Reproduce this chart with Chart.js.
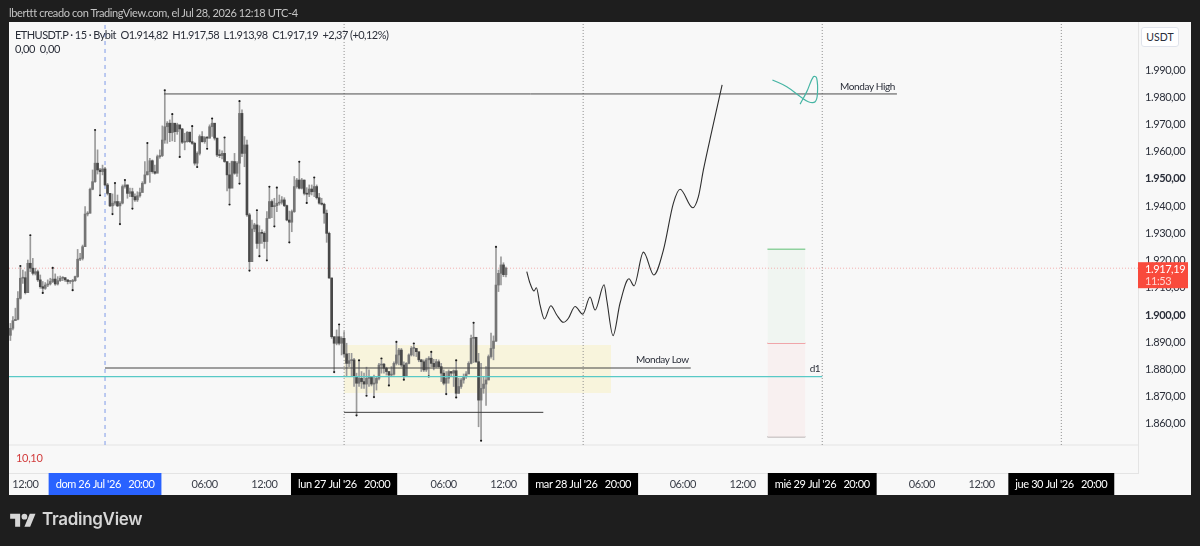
<!DOCTYPE html>
<html>
<head>
<meta charset="utf-8">
<title>ETHUSDT.P 15</title>
<script src="https://cdn.jsdelivr.net/npm/chart.js@4/dist/chart.umd.js"></script>
<style>
html, body { margin: 0; padding: 0; background: #1e1e1e; }
body { position: relative; width: 1200px; height: 546px; overflow: hidden; font-family: Lato, sans-serif; }
#frame { position: absolute; left: 9px; top: 22px; width: 1182px; height: 473px; background: #f8f8f8; }
#myChart { position: absolute; left: 0; top: 0; }
.txt { position: absolute; white-space: pre; }
#snapshot { left: 9px; top: 6px; font-size: 11px; letter-spacing: -0.38px; color: #c4c4c4; }
#header { left: 15px; top: 28px; font-size: 11px; letter-spacing: -0.55px; color: #2a2e39; }
#subheader { left: 15px; top: 42px; font-size: 11px; letter-spacing: -0.4px; color: #2a2e39; }
#volume { left: 16px; top: 451px; font-size: 11px; letter-spacing: -0.3px; color: #d23c3c; }
#unit { left: 1141px; top: 27px; width: 36px; height: 18px; line-height: 18px; text-align: center; font-size: 10.5px; color: #2a2e39; border: 1px solid #e0e3eb; border-radius: 3px; background: #fff; }
#brand { left: 42px; top: 509px; font-family: Inter, sans-serif; font-size: 17px; font-weight: 600; color: #d6d6d6; letter-spacing: -0.3px; }
#logo { position: absolute; left: 10px; top: 511px; }
</style>
</head>
<body>
<div id="frame"></div>
<canvas id="myChart" width="1200" height="546"></canvas>
<div class="txt" id="snapshot">lberttt creado con TradingView.com, el Jul 28, 2026 12:18 UTC-4</div>
<div class="txt" id="header">ETHUSDT.P · 15 · Bybit  O1.914,82  H1.917,58  L1.913,98  C1.917,19  +2,37 (+0,12%)</div>
<div class="txt" id="subheader">0,00  0,00</div>
<div class="txt" id="volume">10,10</div>
<div class="txt" id="unit">USDT</div>
<svg id="logo" width="26" height="20" viewBox="0 0 36 28" fill="#d6d6d6"><path d="M14 22H7V11H0V4h14v18zM28 22h-8l7.5-18h8L28 22z"/><circle cx="20" cy="8" r="4"/></svg>
<div class="txt" id="brand">TradingView</div>
<script>
// Velas de 15 min, hora 0 = corte de sesion del 26 Jul
const firstHour = -9.5;
const firstOpen = 1892.5;
const closes = [
  1895.1,1897.9,1898.4,1906.1,1913.5,1913.7,1908.2,1919.0,1917.2,1915.3,
  1915.9,1912.9,1910.4,1909.8,1911.0,1911.4,1912.3,1913.2,1911.4,1912.6,
  1913.5,1913.7,1912.9,1912.3,1912.3,1912.6,1914.1,1920.5,1920.8,1925.1,
  1937.1,1937.4,1946.2,1949.0,1955.8,1953.3,1952.7,1953.7,1947.8,1944.7,
  1940.1,1941.1,1941.7,1940.1,1941.1,1947.2,1947.8,1944.7,1945.3,1943.5,
  1942.3,1943.8,1945.0,1948.4,1951.5,1952.7,1956.7,1952.7,1952.1,1958.2,
  1958.6,1964.3,1969.2,1970.5,1967.0,1970.5,1967.4,1969.9,1968.4,1963.5,
  1963.7,1967.2,1963.7,1963.1,1955.8,1959.4,1965.6,1963.7,1965.2,1965.0,
  1969.2,1970.5,1965.0,1958.8,1958.6,1959.4,1956.4,1951.5,1946.6,1956.4,
  1952.1,1955.8,1974.1,1959.4,1962.5,1936.8,1919.6,1931.6,1933.1,1926.3,
  1930.3,1930.0,1927.0,1935.5,1941.7,1939.8,1940.2,1941.1,1941.4,1942.3,
  1940.2,1934.9,1934.1,1938.0,1947.2,1949.6,1946.6,1949.6,1944.7,1944.4,
  1946.3,1945.3,1947.2,1943.1,1941.1,1940.7,1937.4,1930.0,1913.6,1892.0,
  1889.6,1892.0,1889.6,1891.4,1885.7,1882.2,1883.2,1883.5,1877.3,1874.9,
  1876.7,1875.5,1874.6,1876.7,1877.3,1874.6,1874.9,1876.7,1881.6,1881.9,
  1880.4,1879.2,1877.9,1878.2,1882.2,1885.3,1887.1,1881.6,1877.3,1882.2,
  1885.3,1887.7,1887.7,1886.5,1883.5,1882.8,1879.8,1883.5,1884.1,1882.2,
  1881.0,1882.8,1881.0,1878.6,1874.9,1876.7,1879.2,1878.6,1879.5,1871.2,
  1873.7,1876.1,1877.3,1878.3,1882.2,1891.4,1891.8,1882.8,1868.7,1873.0,
  1874.6,1876.1,1884.7,1887.7,1890.4,1911.0,1915.3,1918.4,1914.82,1917.19
];
const highs = [
  1896.9,1899.4,1902.5,1908.6,1917.5,1916.5,1915.9,1920.2,1928.8,1920.8,
  1917.2,1916.5,1914.7,1912.3,1911.9,1912.9,1913.5,1916.8,1915.1,1914.1,
  1914.3,1914.1,1913.7,1912.9,1912.6,1913.1,1914.3,1924.1,1922.7,1925.7,
  1939.8,1938.0,1946.6,1953.3,1967.5,1960.7,1953.9,1955.1,1954.3,1948.4,
  1944.7,1944.5,1948.0,1944.1,1941.7,1947.8,1949.1,1947.8,1946.6,1946.6,
  1944.5,1945.3,1946.6,1949.0,1956.4,1962.7,1957.6,1957.0,1955.1,1958.8,
  1960.7,1969.5,1982.1,1971.1,1971.7,1973.3,1970.1,1970.5,1968.6,1968.6,
  1966.8,1967.4,1967.2,1968.9,1963.5,1960.0,1966.2,1967.4,1965.6,1965.6,
  1969.9,1971.7,1966.2,1965.0,1960.7,1960.3,1964.7,1956.1,1955.8,1956.6,
  1959.4,1956.4,1978.1,1975.4,1965.6,1964.3,1937.4,1934.9,1933.7,1938.0,
  1932.8,1931.3,1930.6,1938.0,1946.6,1942.3,1942.9,1946.3,1944.1,1943.5,
  1943.1,1940.4,1938.2,1938.6,1950.9,1950.2,1955.8,1950.2,1949.6,1946.8,
  1947.8,1947.8,1950.0,1947.8,1944.7,1942.9,1941.1,1938.6,1930.5,1913.6,
  1892.0,1894.5,1896.0,1892.0,1893.9,1889.6,1885.9,1885.9,1884.1,1878.6,
  1882.8,1879.2,1878.6,1880.8,1879.8,1876.7,1877.9,1877.1,1882.2,1883.5,
  1882.2,1880.8,1879.2,1881.0,1882.8,1889.6,1887.7,1887.7,1882.8,1882.5,
  1885.7,1888.4,1889.0,1887.7,1885.3,1883.7,1883.5,1884.1,1884.7,1885.9,
  1883.7,1883.7,1883.5,1882.2,1879.8,1879.2,1879.8,1879.2,1879.8,1882.8,
  1876.7,1876.7,1878.3,1879.2,1882.8,1892.6,1896.6,1891.8,1885.9,1882.2,
  1877.3,1881.0,1885.3,1893.3,1892.3,1924.5,1916.5,1921.4,1919.2,1917.58
];
const lows = [
  1890.6,1894.5,1897.9,1898.2,1905.8,1911.6,1907.7,1908.6,1915.9,1914.7,
  1914.7,1912.3,1909.8,1908.6,1909.4,1910.4,1911.0,1911.9,1910.9,1911.0,
  1912.3,1912.6,1912.3,1911.4,1911.6,1909.6,1912.3,1913.8,1920.0,1920.2,
  1925.1,1936.4,1937.4,1946.0,1948.7,1951.8,1944.5,1951.5,1947.4,1944.1,
  1939.8,1937.6,1940.4,1939.8,1933.9,1940.8,1946.6,1942.9,1943.5,1939.6,
  1941.7,1941.7,1943.3,1946.0,1948.2,1951.5,1948.7,1952.1,1951.8,1952.7,
  1957.6,1958.2,1963.1,1963.1,1963.7,1964.0,1963.7,1966.4,1958.6,1963.0,
  1960.7,1963.5,1963.4,1962.7,1955.1,1954.9,1958.8,1963.5,1963.1,1961.6,
  1965.0,1965.6,1964.3,1958.2,1957.8,1957.4,1956.1,1945.6,1941.1,1951.5,
  1951.7,1950.9,1948.8,1958.2,1954.5,1936.2,1916.8,1920.2,1930.6,1924.5,
  1922.1,1926.3,1924.5,1920.6,1935.8,1935.8,1933.1,1938.0,1940.4,1940.7,
  1939.8,1934.6,1927.2,1930.6,1937.7,1946.6,1946.3,1946.3,1944.1,1941.7,
  1943.5,1944.1,1943.5,1942.6,1940.7,1940.4,1933.7,1926.7,1913.4,1891.4,
  1879.5,1889.0,1889.0,1885.3,1884.7,1877.3,1881.0,1877.3,1873.7,1863.6,
  1873.7,1873.0,1873.0,1870.8,1873.7,1873.9,1870.3,1872.4,1876.1,1878.6,
  1878.6,1877.9,1874.6,1877.3,1877.9,1881.6,1881.6,1881.0,1876.7,1878.6,
  1882.0,1884.9,1884.9,1884.7,1882.8,1879.2,1879.2,1879.2,1877.9,1881.0,
  1879.8,1880.8,1880.8,1875.5,1874.3,1871.4,1874.9,1877.3,1873.7,1870.2,
  1871.2,1873.0,1874.9,1876.7,1878.6,1882.0,1882.5,1882.5,1858.9,1854.3,
  1871.2,1866.7,1876.1,1884.1,1883.5,1890.2,1908.6,1911.0,1914.1,1913.98
];
const opens = [firstOpen].concat(closes.slice(0, -1));
const candleHours = closes.map((c, i) => firstHour + i * 0.25);
const highMarks = [4,8,17,34,42,46,55,62,65,73,81,86,92,99,104,107,116,122,132,140,149,155,162,169,179,186,195];
const lowMarks = [13,25,36,41,44,49,68,75,79,88,92,96,100,103,106,112,119,130,139,143,146,152,158,168,175,179,189];

// Ejes
const priceTicks = [1860,1870,1880,1890,1900,1910,1920,1930,1940,1950,1960,1970,1980,1990];
const priceTickLabels = ['1.860,00','1.870,00','1.880,00','1.890,00','1.900,00','1.910,00','1.920,00','1.930,00','1.940,00','1.950,00','1.960,00','1.970,00','1.980,00','1.990,00'];
const boldPrices = [1900, 1950];
const timeTicks = [-8,0,10,16,24,34,40,48,58,64,72,82,88,96];
const timeTickLabels = ['12:00',"dom 26 Jul '26   20:00",'06:00','12:00',"lun 27 Jul '26   20:00",'06:00','12:00',"mar 28 Jul '26   20:00",'06:00','12:00',"mié 29 Jul '26   20:00",'06:00','12:00',"jue 30 Jul '26   20:00"];
const sessionHours = [0,24,48,72,96];
const priceMin = 1841.9, priceMax = 2007.7, paneBottom = 1852.2;
const hourMin = -9.64, hourMax = 103.7;
const lastPrice = 1917.19;

// Dibujos: [hora, precio]
const mondayHigh = [[5.92,1981.25],[79.5,1981.25]];
const mondayLow = [[0,1880.5],[58.8,1880.5]];
const weekLow = [[24,1864.2],[44,1864.2]];
const d1Level = [[-9.64,1877.3],[72,1877.3]];
const rangeBox = [[24,1889],[50.8,1889]];
const rangeBoxBase = 1871.3;
const targetBox = [[66.5,1924.2],[70.3,1924.2]];
const stopBox = [[66.5,1889.6],[70.3,1889.6]];
const stopPrice = 1855.2;
const forecast = [
  [42.34,1915.9],[42.67,1911.6],[43.07,1908.8],[43.3,1910.0],[43.67,1903.7],[44.11,1898.5],[44.75,1903.4],
  [45.35,1900.0],[46.02,1897.3],[46.52,1898.8],[47.19,1903.1],[47.96,1900.3],[48.69,1906.6],[49.2,1901.8],
  [50.1,1911.1],[50.37,1905.5],[51.0,1892.4],[51.7,1904.3],[52.6,1913.3],[53.1,1910.7],[54.05,1923.1],
  [55.1,1914.7],[56.06,1923.9],[57.06,1941.1],[57.73,1946.2],[59.0,1939.4],[59.57,1943.5],[60.07,1953.3],
  [60.94,1968.0],[61.95,1984.6]
];
const scribble = [
  [67.0,1986.4],[68.44,1983.9],[69.78,1980.3],[70.6,1978.4],[71.29,1978.4],[71.52,1981.5],
  [71.44,1987.1],[71.12,1987.6],[70.45,1982.1],[69.78,1977.5]
];

function toPoints(list) {
  return list.map(p => ({ x: p[0], y: p[1] }));
}

function lineSet(list, color, width, order, extra) {
  return Object.assign({
    type: 'line',
    data: toPoints(list),
    borderColor: color,
    borderWidth: width,
    pointRadius: 0,
    order: order
  }, extra);
}

const datasets = [];

// Fondos
datasets.push(lineSet(rangeBox, 'rgba(0,0,0,0)', 0, 20, { fill: { value: rangeBoxBase }, backgroundColor: '#f8f4dc' }));
datasets.push(lineSet(targetBox, '#8fd19e', 1.5, 20, { fill: { value: stopBox[0][1] }, backgroundColor: '#f0f5f1' }));
datasets.push(lineSet(stopBox, '#f08a90', 1.5, 20, { fill: { value: stopPrice }, backgroundColor: '#f8f0f0' }));
datasets.push(lineSet(stopBox.map(p => [p[0], stopPrice]), '#a8a0a0', 1.5, 20));

// Lineas de sesion y divisor del panel
sessionHours.forEach((h, i) => {
  datasets.push(lineSet([[h, paneBottom], [h, priceMax]], i === 0 ? '#7f9be8' : '#8d8d8d', 1, 15,
    { borderDash: i === 0 ? [4, 4] : [1, 2] }));
});
datasets.push(lineSet([[hourMin, paneBottom], [hourMax, paneBottom]], '#ebebeb', 1.5, 15));
datasets.push(lineSet([[hourMin, lastPrice], [hourMax, lastPrice]], '#f2b0b0', 1, 14, { borderDash: [1, 2] }));

// Velas
datasets.push({
  type: 'bar',
  data: candleHours.map((h, i) => ({ x: h, y: [lows[i], highs[i]] })),
  backgroundColor: '#9a9a9a',
  barThickness: 1,
  grouped: false,
  order: 6
});
datasets.push({
  type: 'bar',
  data: candleHours.map((h, i) => ({ x: h, y: [opens[i], closes[i]] })),
  backgroundColor: ctx => (closes[ctx.dataIndex] >= opens[ctx.dataIndex] ? '#757575' : '#484848'),
  barThickness: 2,
  minBarLength: 1,
  grouped: false,
  order: 5
});
datasets.push({
  type: 'scatter',
  data: highMarks.map(i => ({ x: candleHours[i], y: highs[i] + 0.5 })).concat(lowMarks.map(i => ({ x: candleHours[i], y: lows[i] - 0.5 }))),
  pointRadius: 1.1,
  pointBackgroundColor: '#1c1c1c',
  pointBorderWidth: 0,
  order: 4
});

// Lineas dibujadas
datasets.push(lineSet(mondayHigh, '#4c4c4c', 1, 3));
datasets.push(lineSet(mondayLow, '#444444', 1, 3));
datasets.push(lineSet(weekLow, '#3a3a3a', 1, 3));
datasets.push(lineSet(d1Level, '#58c9c6', 1.2, 3));
datasets.push(lineSet(forecast, '#2e2e2e', 1.1, 2, { cubicInterpolationMode: 'monotone' }));
datasets.push(lineSet(scribble, '#46b5a4', 1.2, 2, { tension: 0.4 }));

// Textos y etiqueta de precio
const notes = [
  { text: 'Monday High', hour: 79.3, price: 1981.25, gap: -7 },
  { text: 'Monday Low', hour: 58.6, price: 1880.5, gap: -8 },
  { text: 'd1', hour: 71.8, price: 1877.3, gap: -8 }
];

const chartText = {
  id: 'chartText',
  beforeLayout(chart) {
    chart.ctx.letterSpacing = '-0.4px';
  },
  beforeDraw(chart) {
    chart.ctx.letterSpacing = '-0.4px';
  },
  afterDraw(chart) {
    const c = chart.ctx, xs = chart.scales.x, ys = chart.scales.y;
    c.save();
    c.font = '10px Lato';
    c.fillStyle = '#2a2e39';
    c.textAlign = 'right';
    c.textBaseline = 'middle';
    notes.forEach(n => c.fillText(n.text, xs.getPixelForValue(n.hour), ys.getPixelForValue(n.price) + n.gap));
    // etiqueta del ultimo precio
    const top = ys.getPixelForValue(lastPrice) - 6;
    c.fillStyle = '#f94a3c';
    c.fillRect(chart.chartArea.right, top, 50, 26);
    c.textAlign = 'left';
    c.font = '11px Lato';
    c.fillStyle = '#ffffff';
    c.fillText('1.917,19', chart.chartArea.right + 7, top + 7);
    c.fillStyle = '#ffd5d0';
    c.fillText('11:53', chart.chartArea.right + 7, top + 19);
    c.restore();
  }
};

new Chart(document.getElementById('myChart').getContext('2d'), {
  type: 'bar',
  data: { datasets: datasets },
  plugins: [chartText],
  options: {
    responsive: false,
    animation: false,
    devicePixelRatio: 1,
    parsing: true,
    layout: { padding: { left: 9, top: 22, right: 10, bottom: 51 } },
    plugins: { legend: { display: false }, tooltip: { enabled: false } },
    scales: {
      x: {
        type: 'linear',
        min: hourMin,
        max: hourMax,
        offset: false,
        grid: { display: false, offset: false, drawTicks: false },
        border: { display: true, color: '#e4e4e4' },
        afterBuildTicks: scale => { scale.ticks = timeTicks.map(v => ({ value: v })); },
        afterFit: scale => { scale.height = 22; },
        ticks: {
          autoSkip: false,
          maxRotation: 0,
          padding: 5,
          font: { family: 'Lato', size: 11 },
          color: ctx => (sessionHours.includes(timeTicks[ctx.index]) ? '#ffffff' : '#3a3e48'),
          showLabelBackdrop: ctx => sessionHours.includes(timeTicks[ctx.index]),
          backdropColor: ctx => (timeTicks[ctx.index] === 0 ? '#2962ff' : '#000000'),
          backdropPadding: { left: 7, right: 7, top: 5, bottom: 4 },
          callback: (value, index) => timeTickLabels[index]
        }
      },
      y: {
        type: 'linear',
        position: 'right',
        min: priceMin,
        max: priceMax,
        grid: { display: false, drawTicks: false },
        border: { display: true, color: '#e4e4e4' },
        afterBuildTicks: scale => { scale.ticks = priceTicks.map(v => ({ value: v })); },
        afterFit: scale => { scale.width = 52; },
        ticks: {
          autoSkip: false,
          padding: 7,
          font: ctx => ({ family: 'Lato', size: 11, weight: boldPrices.includes(priceTicks[ctx.index]) ? 'bold' : 'normal' }),
          color: '#2a2e39',
          callback: (value, index) => priceTickLabels[index]
        }
      }
    }
  }
});
</script>
</body>
</html>
